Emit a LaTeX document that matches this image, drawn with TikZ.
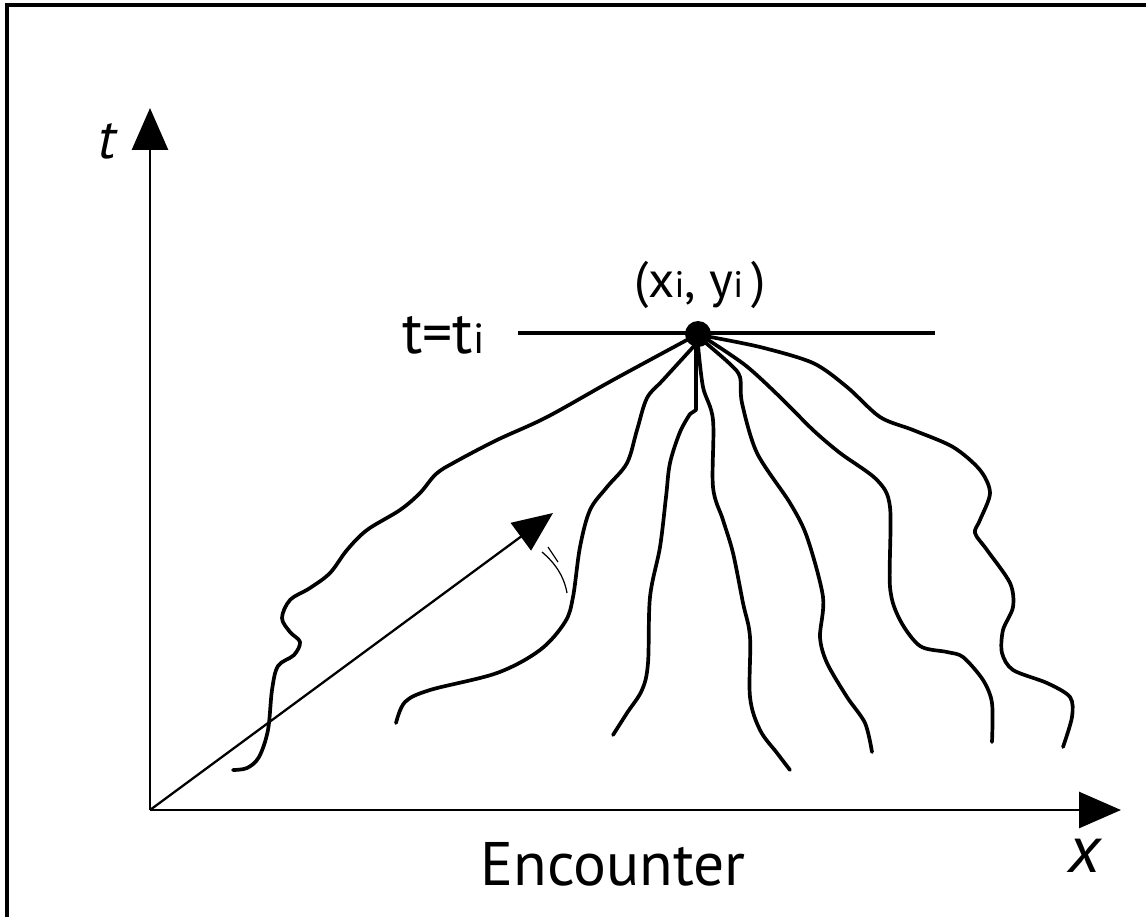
\documentclass[tikz,border=0pt]{standalone}
\usepackage{fontspec}
\setmainfont{PT Sans}
\usetikzlibrary{arrows.meta}
\tikzset{
  path/.style={line width=2.1pt, line cap=round, line join=round},
  axis/.style={line width=1.6pt, -{Triangle[length=0.84cm,width=0.72cm]}},
  lbl/.style={inner sep=0pt, text=black},
}
\begin{document}
\begin{tikzpicture}[x=0.02cm,y=-0.02cm]
\useasboundingbox (0,0) rectangle (1146,917);
\fill[white] (0,0) rectangle (1146,917);
% frame (top and left visible)
\draw[line width=1.8pt, line join=miter] (7,917) -- (7,5) -- (1146,5);

\coordinate (O) at (150,810);
\coordinate (ytip) at (150,108);
\coordinate (xtip) at (1121,810);
\coordinate (dtip) at (553,513);
\coordinate (hl) at (518,333);
\coordinate (hr) at (935,333);

\draw[axis] (O) -- (ytip);
\draw[axis] (O) -- (xtip);
\draw[line width=1.3pt, -{Triangle[length=0.8cm,width=0.68cm]}] (O) -- (dtip);

\node[lbl, font=\fontsize{32}{36}\selectfont\itshape] (tlab) at (107,141) {t};
\node[lbl, font=\fontsize{38}{42}\selectfont\itshape] (xlab) at (1085,856) {x};
\node[lbl, anchor=base, font=\fontsize{35}{40}\selectfont] (enc) at (613,885) {Encounter};

\draw[line width=2pt] (hl) -- (hr);
\node[lbl, anchor=base west, font=\fontsize{34}{38}\selectfont] (tti) at (402,353) {t=t{\fontsize{24}{26}\selectfont i}};
\node[lbl, anchor=base, font=\fontsize{29}{32}\selectfont] (xy) at (700,297) {(x{\fontsize{21}{24}\selectfont i}, y{\fontsize{21}{24}\selectfont i}\,)};

% paths
\draw[path] plot[smooth, tension=0.55] coordinates {(698,334) (613,380) (547,417) (497,440) (455,462) (436,474) (420,493) (400,510) (367,530) (347,550) (330,573) (310,588) (290,600) (282,618) (290,632) (300,642) (294,655) (278,666) (272,690) (268,730) (259,757) (247,768) (233,770)};
\draw[path] plot[smooth, tension=0.55] coordinates {(695,345) (663,380) (647,398) (637,430) (627,463) (607,487) (590,510) (580,547) (573,597) (565,622) (540,650) (497,673) (430,690) (405,702) (396,723)};
\draw[path] (696,340) -- (696,410) -- (690,414);
\draw[path] plot[smooth, tension=0.55] coordinates {(690,414) (680,432) (670,463) (666,497) (660,547) (650,597) (648,663) (642,690) (627,713) (613,735)};
\draw[path] plot[smooth, tension=0.55] coordinates {(698,345) (703,387) (713,420) (713,487) (723,520) (733,553) (743,603) (750,637) (750,697) (760,730) (777,753) (790,770)};
\draw[path] plot[smooth, tension=0.5] coordinates {(700,338) (730,364) (740,377) (742,403) (757,453) (790,503) (807,537) (823,597) (820,637) (827,663) (847,697) (865,723) (872,752)};
\draw[path] plot[smooth, tension=0.5] coordinates {(702,336) (745,365) (780,397) (813,430) (840,453) (877,480) (890,507) (890,587) (900,620) (920,646) (947,652) (963,657) (983,680) (992,703) (992,742)};
\draw[path] plot[smooth, tension=0.5] coordinates {(705,336) (760,347) (813,363) (847,387) (880,417) (913,430) (953,447) (980,470) (990,493) (980,520) (975,533) (987,550) (1010,583) (1013,607) (1003,630) (1002,653) (1013,670) (1047,683) (1070,697) (1072,717) (1063,747)};

\node[circle, fill=black, inner sep=0pt, minimum size=0.52cm] (p) at (698,334) {};

% small double mark near the arrow
\draw[line width=0.7pt] (542,552) .. controls (555,563) and (564,576) .. (567,593);
\draw[line width=0.7pt] (548,547) -- (558,562);
\end{tikzpicture}
\end{document}
